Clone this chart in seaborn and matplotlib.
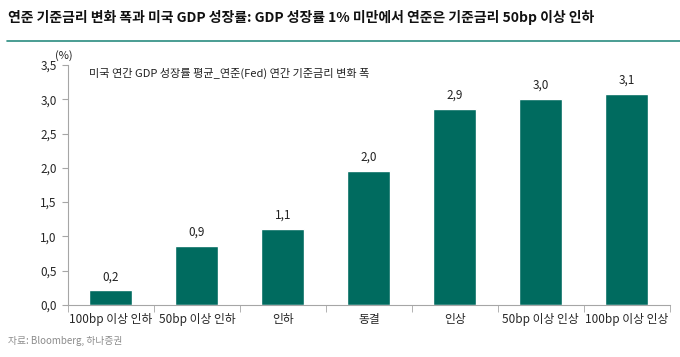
import pandas as pd
import matplotlib
matplotlib.use("Agg")
from matplotlib import pyplot as plt
from matplotlib.ticker import FixedLocator, NullFormatter
import seaborn as sns

sns.set_style("white")
plt.rcParams['font.family'] = ['Noto Sans CJK KR', 'DejaVu Sans']
plt.rcParams['axes.unicode_minus'] = False

# 데이터
categories = ['100bp 이상 인하', '50bp 이상 인하', '인하', '동결', '인상', '50bp 이상 인상', '100bp 이상 인상']
gdp_growth = [0.21, 0.86, 1.11, 1.96, 2.86, 3.01, 3.08]
yticks = [0.0, 0.5, 1.0, 1.5, 2.0, 2.5, 3.0, 3.5]

df = pd.DataFrame({'구분': categories, 'GDP': gdp_growth})

bar_color = '#006B5F'
axis_color = '#A6A6A6'

fig = plt.figure(figsize=(6.8, 3.57), dpi=100)
ax = fig.add_axes([0.1, 0.146, 0.885, 0.672])

sns.barplot(data=df, x='구분', y='GDP', color=bar_color, width=0.5,
            saturation=1, ax=ax)

for p, v in zip(ax.patches, gdp_growth):
    ax.text(p.get_x() + p.get_width() / 2, p.get_height() + 0.1,
            f'{v:.1f}'.replace('.', ','), ha='center', va='bottom',
            fontsize=8.5, color='#222222')

ax.set_ylim(0, 3.5)
ax.set_xlim(-0.5, len(categories) - 0.5)
ax.set_yticks(yticks)
ax.set_yticklabels([f'{t:.1f}'.replace('.', ',') for t in yticks], fontsize=8.5)
ax.set_xlabel('')
ax.set_ylabel('')
ax.tick_params(axis='x', labelsize=8.5, length=0, pad=6)
ax.tick_params(axis='y', length=4, color=axis_color, direction='out', left=True, pad=4)

# 카테고리 경계 눈금
ax.xaxis.set_minor_locator(FixedLocator([i - 0.5 for i in range(len(categories) + 1)]))
ax.xaxis.set_minor_formatter(NullFormatter())
ax.tick_params(axis='x', which='minor', length=5, color=axis_color, direction='out', bottom=True)

for s in ['top', 'right']:
    ax.spines[s].set_visible(False)
for s in ['left', 'bottom']:
    ax.spines[s].set_color(axis_color)
    ax.spines[s].set_linewidth(0.8)

ax.text(-0.25, 3.38, '미국 연간 GDP 성장률 평균_연준(Fed) 연간 기준금리 변화 폭',
        fontsize=8, color='#222222', va='center', ha='left')

fig.text(0.081, 0.845, '(%)', fontsize=8, color='#222222', ha='left', va='center')

fig.text(0.012, 0.952, '연준 기준금리 변화 폭과 미국 GDP 성장률: GDP 성장률 1% 미만에서 연준은 기준금리 50bp 이상 인하',
         fontsize=10, fontweight='bold', color='#111111', ha='left', va='center')
fig.add_artist(plt.Line2D([0.01, 1.0], [0.885, 0.885], color='#2A8C80', linewidth=1.2,
                          transform=fig.transFigure))

fig.text(0.012, 0.045, '자료: Bloomberg, 하나증권', fontsize=7, color='#8C8C8C',
         ha='left', va='center')

fig.savefig('out.png', dpi=100)
